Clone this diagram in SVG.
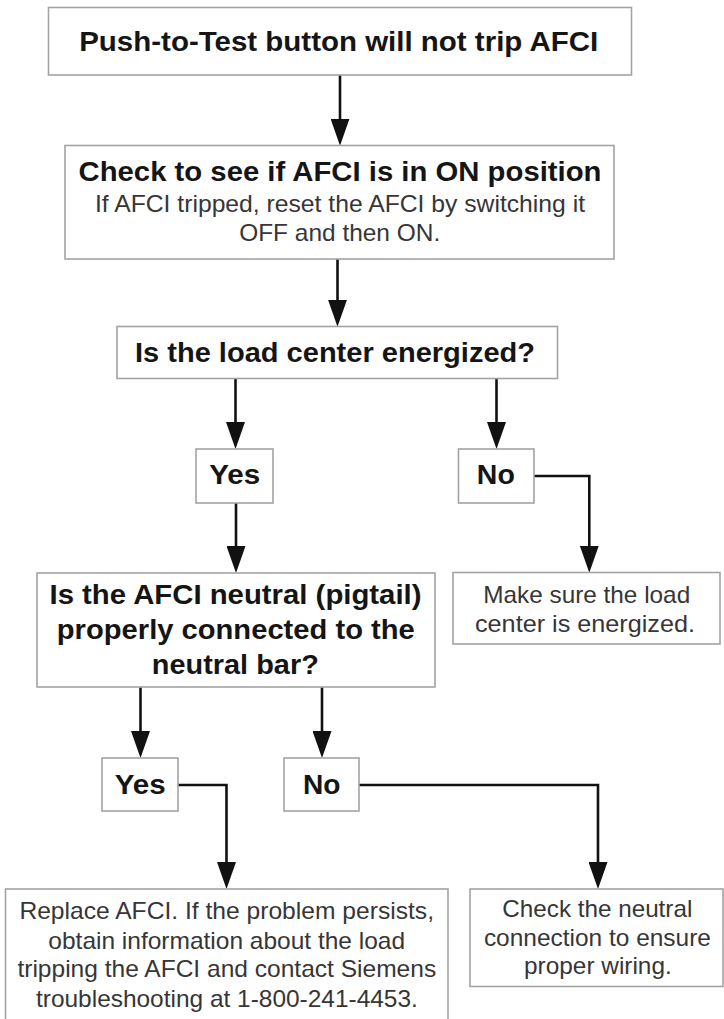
<svg xmlns="http://www.w3.org/2000/svg" width="724" height="1019" viewBox="0 0 724 1019">
<style>
.box{fill:#fff;stroke:#a3a3a3;stroke-width:1.6}
.b{font-family:"Liberation Sans",Arial,sans-serif;font-weight:bold;font-size:28.5px;fill:#151515;text-anchor:middle}
.r{font-family:"Liberation Sans",Arial,sans-serif;font-size:24px;fill:#363636;text-anchor:middle}
.c{fill:none;stroke:#111;stroke-width:2.6}
</style>
<defs>
<marker id="ah" viewBox="0 0 27 19" refX="17" refY="9.5" markerWidth="27" markerHeight="19" markerUnits="userSpaceOnUse" orient="auto">
<path d="M0,0 L27,9.5 L0,19 z" fill="#111"/>
</marker>
</defs>
<rect width="724" height="1019" fill="#fff"/>
<g id="connectors">
<path class="c" marker-end="url(#ah)" d="M340,75 V135.7"/>
<path class="c" marker-end="url(#ah)" d="M337.5,259 V316.7"/>
<path class="c" marker-end="url(#ah)" d="M235.5,378.3 V439"/>
<path class="c" marker-end="url(#ah)" d="M496.5,378.3 V439"/>
<path class="c" marker-end="url(#ah)" d="M236,503 V563"/>
<path class="c" marker-end="url(#ah)" d="M534,476 H589.3 V562.7"/>
<path class="c" marker-end="url(#ah)" d="M140.5,687.3 V748"/>
<path class="c" marker-end="url(#ah)" d="M322,687.3 V748"/>
<path class="c" marker-end="url(#ah)" d="M178,785 H226.5 V879"/>
<path class="c" marker-end="url(#ah)" d="M359,785 H598 V879"/>
</g>
<g id="n1">
<rect class="box" x="48.5" y="7.5" width="583" height="67.5"/>
<text class="b" x="338.7" y="51" textLength="519" lengthAdjust="spacingAndGlyphs">Push-to-Test button will not trip AFCI</text>
</g>
<g id="n2">
<rect class="box" x="65" y="145.5" width="549" height="113.5"/>
<text class="b" x="340" y="181" textLength="523" lengthAdjust="spacingAndGlyphs">Check to see if AFCI is in ON position</text>
<text class="r" x="340" y="211.5" textLength="490" lengthAdjust="spacingAndGlyphs">If AFCI tripped, reset the AFCI by switching it</text>
<text class="r" x="339.7" y="240.5" textLength="201" lengthAdjust="spacingAndGlyphs">OFF and then ON.</text>
</g>
<g id="n3">
<rect class="box" x="117" y="326.5" width="440.5" height="52"/>
<text class="b" x="335" y="362" textLength="400" lengthAdjust="spacingAndGlyphs">Is the load center energized?</text>
</g>
<g id="n4">
<rect class="box" x="196" y="449" width="77" height="54"/>
<text class="b" x="234.7" y="484" textLength="51" lengthAdjust="spacingAndGlyphs">Yes</text>
</g>
<g id="n5">
<rect class="box" x="458.5" y="449" width="75.5" height="54"/>
<text class="b" x="495.8" y="484" textLength="38" lengthAdjust="spacingAndGlyphs">No</text>
</g>
<g id="n6">
<rect class="box" x="37" y="573" width="398" height="114"/>
<text class="b" x="235.5" y="604" textLength="372" lengthAdjust="spacingAndGlyphs">Is the AFCI neutral (pigtail)</text>
<text class="b" x="235.8" y="639" textLength="358" lengthAdjust="spacingAndGlyphs">properly connected to the</text>
<text class="b" x="235.3" y="673.5" textLength="167" lengthAdjust="spacingAndGlyphs">neutral bar?</text>
</g>
<g id="n7">
<rect class="box" x="453" y="572.5" width="267" height="71.5"/>
<text class="r" x="586.7" y="602.5" textLength="207" lengthAdjust="spacingAndGlyphs">Make sure the load</text>
<text class="r" x="585" y="631.5" textLength="220" lengthAdjust="spacingAndGlyphs">center is energized.</text>
</g>
<g id="n8">
<rect class="box" x="102" y="758" width="76" height="53"/>
<text class="b" x="140.2" y="793.5" textLength="51" lengthAdjust="spacingAndGlyphs">Yes</text>
</g>
<g id="n9">
<rect class="box" x="284" y="758" width="75" height="53"/>
<text class="b" x="321.8" y="793.5" textLength="37.5" lengthAdjust="spacingAndGlyphs">No</text>
</g>
<g id="n10">
<rect class="box" x="5.5" y="889" width="442.5" height="140"/>
<text class="r" x="226.7" y="918.8" textLength="414.6" lengthAdjust="spacingAndGlyphs">Replace AFCI. If the problem persists,</text>
<text class="r" x="226.7" y="948.8" textLength="356.7" lengthAdjust="spacingAndGlyphs">obtain information about the load</text>
<text class="r" x="226.8" y="977.2" textLength="418.8" lengthAdjust="spacingAndGlyphs">tripping the AFCI and contact Siemens</text>
<text class="r" x="226.9" y="1007.2" textLength="381.8" lengthAdjust="spacingAndGlyphs">troubleshooting at 1-800-241-4453.</text>
</g>
<g id="n11">
<rect class="box" x="470" y="889" width="253" height="97.5"/>
<text class="r" x="597.3" y="916.5" textLength="190" lengthAdjust="spacingAndGlyphs">Check the neutral</text>
<text class="r" x="597.4" y="945.5" textLength="227" lengthAdjust="spacingAndGlyphs">connection to ensure</text>
<text class="r" x="597.9" y="973.8" textLength="147.7" lengthAdjust="spacingAndGlyphs">proper wiring.</text>
</g>
</svg>
